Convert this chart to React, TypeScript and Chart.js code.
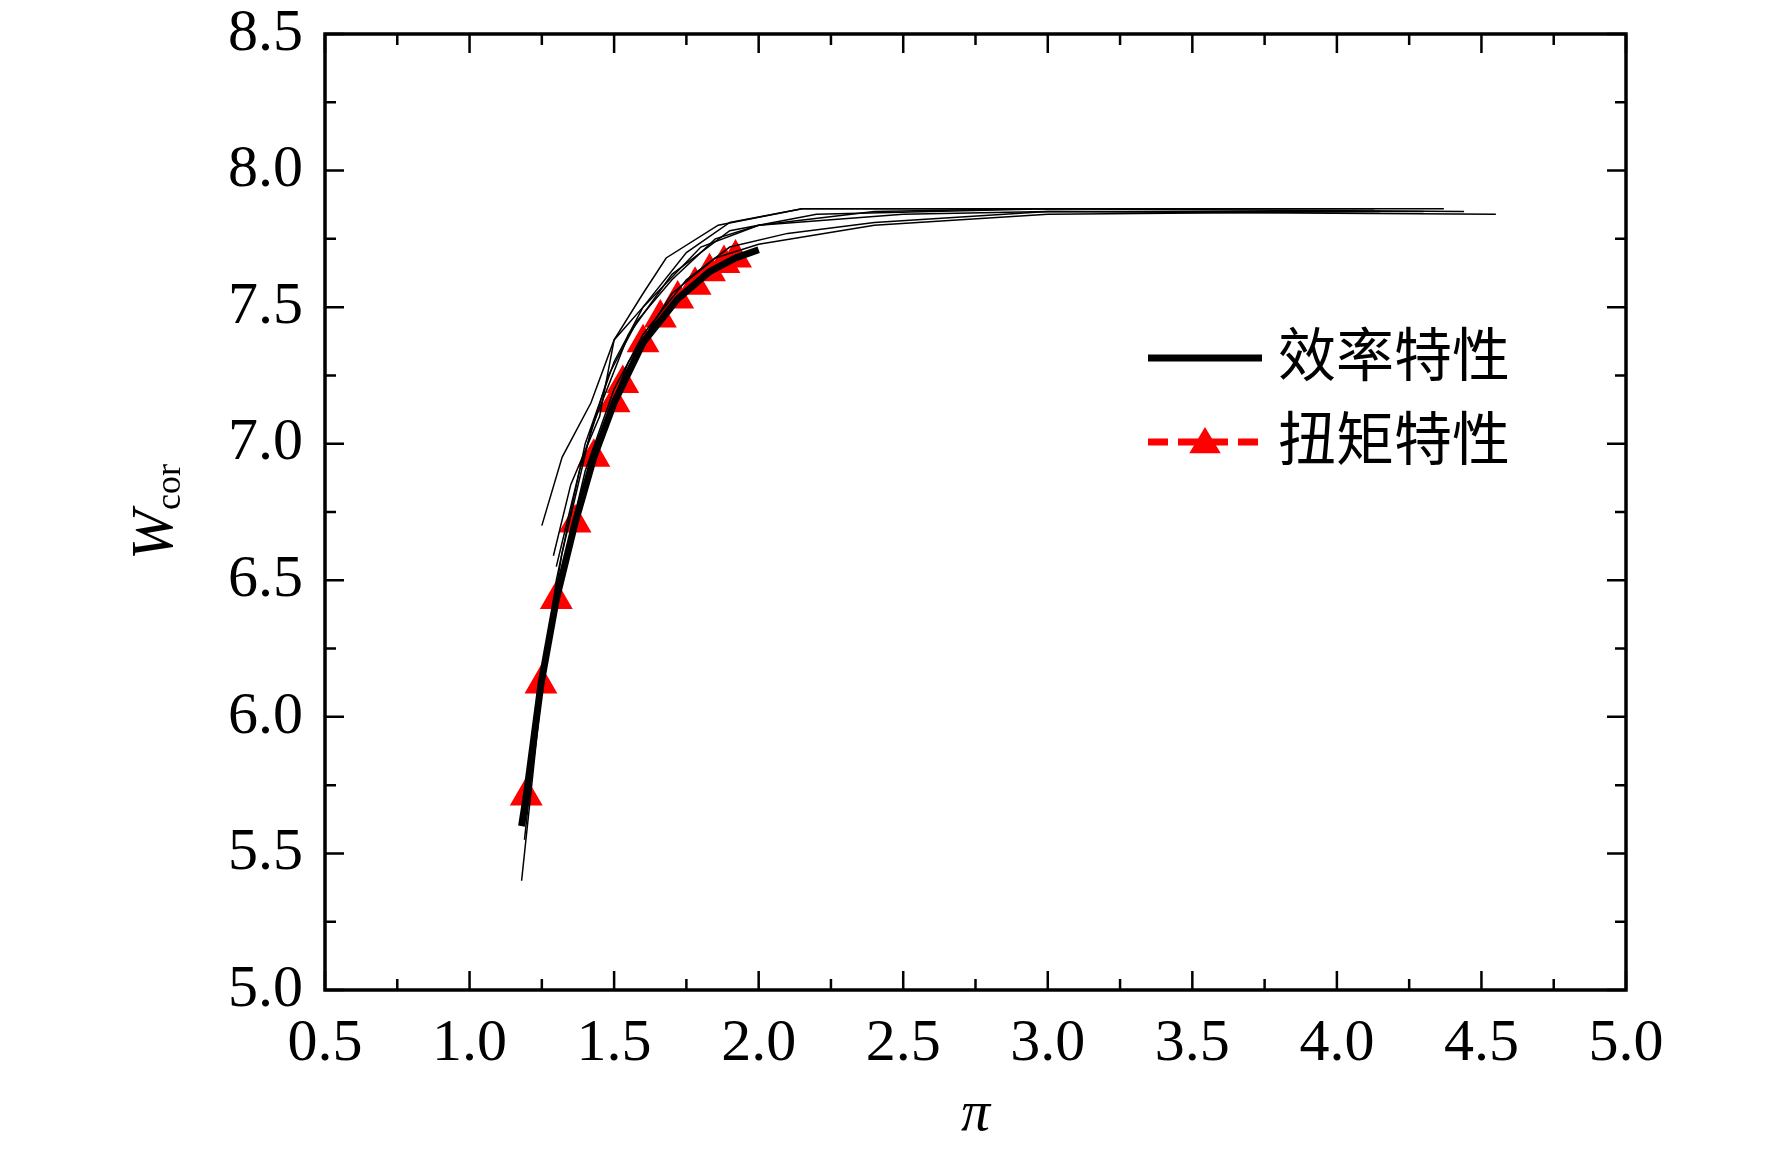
import React, { useEffect, useRef } from "react";
import { Chart, registerables } from "chart.js";
Chart.register(...registerables);

const torqueX = [1.196, 1.247, 1.30, 1.365, 1.43, 1.50, 1.53, 1.60, 1.66, 1.72, 1.78, 1.83, 1.88, 1.92];
const torqueY = [5.71, 6.12, 6.43, 6.71, 6.95, 7.15, 7.22, 7.37, 7.46, 7.53, 7.58, 7.63, 7.66, 7.68];
const effMainX = [1.18, 1.196, 1.247, 1.30, 1.365, 1.43, 1.50, 1.60, 1.72, 1.83, 1.92, 2.0];
const effMainY = [5.6, 5.71, 6.12, 6.43, 6.71, 6.95, 7.15, 7.37, 7.53, 7.63, 7.68, 7.71];
const thin: [number, number][][] = [
  [[1.18,5.40],[1.25,6.1],[1.3,6.5],[1.4,7.0],[1.5,7.3],[1.6,7.5],[1.8,7.72],[2.0,7.8],[2.5,7.84],[3.0,7.85],[4.55,7.84]],
  [[1.19,5.55],[1.25,6.15],[1.32,6.6],[1.42,7.05],[1.55,7.4],[1.7,7.62],[1.9,7.78],[2.2,7.84],[3.0,7.86],[4.44,7.85]],
  [[1.25,6.70],[1.32,6.95],[1.42,7.15],[1.5,7.38],[1.6,7.55],[1.68,7.68],[1.86,7.8],[2.15,7.86],[4.37,7.86]],
  [[1.29,6.59],[1.35,6.85],[1.45,7.1],[1.5,7.38],[1.6,7.5],[1.75,7.7],[1.9,7.81],[2.15,7.86],[4.13,7.86]],
  [[1.2,5.75],[1.3,6.45],[1.4,6.9],[1.5,7.2],[1.6,7.4],[1.75,7.6],[1.9,7.72],[2.1,7.77],[2.4,7.81],[3.0,7.85],[4.3,7.85]],
  [[1.3,6.55],[1.38,6.9],[1.48,7.25],[1.58,7.45],[1.7,7.6],[1.85,7.75],[2.0,7.8],[2.4,7.85],[2.92,7.86]],
  [[1.22,5.9],[1.3,6.4],[1.42,6.95],[1.55,7.3],[1.7,7.55],[1.85,7.68],[2.0,7.73],[2.4,7.8],[3.0,7.84],[4.15,7.85]],
];
const xTicks = [0.5, 1.0, 1.5, 2.0, 2.5, 3.0, 3.5, 4.0, 4.5, 5.0];
const yTicks = [5.0, 5.5, 6.0, 6.5, 7.0, 7.5, 8.0, 8.5];
const legendLabels = ["效率特性", "扭矩特性"];

const FONT = "'Liberation Serif', 'Times New Roman', serif";
const CJK = "'Noto Sans CJK SC', sans-serif";

function tri(ctx: CanvasRenderingContext2D, x: number, y: number, r: number) {
  ctx.beginPath();
  ctx.moveTo(x, y - r);
  ctx.lineTo(x + r * 1.05, y + r * 0.75);
  ctx.lineTo(x - r * 1.05, y + r * 0.75);
  ctx.closePath();
  ctx.fill();
}

const deco = {
  id: "deco",
  afterDraw(chart: any) {
    const { ctx, chartArea: a, scales } = chart;
    const xs = scales.x, ys = scales.y;
    ctx.save();
    ctx.strokeStyle = "#000";
    ctx.lineWidth = 2.5;
    for (let v = 0.5; v <= 5.0001; v += 0.25) {
      const px = xs.getPixelForValue(v);
      const major = Math.abs(v * 2 - Math.round(v * 2)) < 1e-6;
      const L = major ? 19 : 11;
      ctx.beginPath();
      ctx.moveTo(px, a.bottom); ctx.lineTo(px, a.bottom - L);
      ctx.moveTo(px, a.top); ctx.lineTo(px, a.top + L);
      ctx.stroke();
    }
    for (let v = 5.0; v <= 8.5001; v += 0.25) {
      const py = ys.getPixelForValue(v);
      const major = Math.abs(v * 2 - Math.round(v * 2)) < 1e-6;
      const L = major ? 19 : 11;
      ctx.beginPath();
      ctx.moveTo(a.left, py); ctx.lineTo(a.left + L, py);
      ctx.moveTo(a.right, py); ctx.lineTo(a.right - L, py);
      ctx.stroke();
    }
    ctx.lineWidth = 3.5;
    ctx.strokeRect(a.left, a.top, a.right - a.left, a.bottom - a.top);
    ctx.fillStyle = "#000";
    ctx.font = `italic 58px ${FONT}`;
    ctx.textAlign = "center";
    ctx.textBaseline = "alphabetic";
    ctx.fillText("π", (a.left + a.right) / 2, 1130);
    ctx.save();
    ctx.translate(172, (a.top + a.bottom) / 2);
    ctx.rotate(-Math.PI / 2);
    ctx.textAlign = "left";
    ctx.font = `italic 60px ${FONT}`;
    const wW = ctx.measureText("W").width;
    ctx.font = `36px ${FONT}`;
    const cW = ctx.measureText("cor").width;
    const sx = -(wW + cW) / 2;
    ctx.font = `italic 60px ${FONT}`;
    ctx.fillText("W", sx, 0);
    ctx.font = `36px ${FONT}`;
    ctx.fillText("cor", sx + wW, 8);
    ctx.restore();
    ctx.font = `58px ${CJK}`;
    ctx.textAlign = "left";
    ctx.textBaseline = "middle";
    ctx.strokeStyle = "#000"; ctx.lineWidth = 7;
    ctx.beginPath(); ctx.moveTo(1148, 358); ctx.lineTo(1262, 358); ctx.stroke();
    ctx.fillText(legendLabels[0], 1278, 354);
    ctx.strokeStyle = "#ff0000"; ctx.setLineDash([20, 10]);
    ctx.beginPath(); ctx.moveTo(1148, 442); ctx.lineTo(1262, 442); ctx.stroke();
    ctx.setLineDash([]);
    ctx.fillStyle = "#ff0000"; tri(ctx, 1205, 442, 15);
    ctx.fillStyle = "#000";
    ctx.fillText(legendLabels[1], 1278, 438);
    ctx.restore();
  },
};

export default function App() {
  const ref = useRef<HTMLCanvasElement>(null);
  useEffect(() => {
    document.body.style.margin = "0";
    const datasets: any[] = thin.map((c) => ({
      data: c.map(([x, y]) => ({ x, y })),
      borderColor: "#000", borderWidth: 1.5, pointRadius: 0, showLine: true, tension: 0,
    }));
    datasets.push({
      data: effMainX.map((x, i) => ({ x, y: effMainY[i] })),
      borderColor: "#000", borderWidth: 7, pointRadius: 0, showLine: true,
    });
    datasets.push({
      data: torqueX.map((x, i) => ({ x, y: torqueY[i] })),
      borderColor: "#ff0000", borderWidth: 5, borderDash: [18, 9], showLine: true,
      pointStyle: "triangle", pointRadius: 14, pointBackgroundColor: "#ff0000", pointBorderColor: "#ff0000",
    });
    const chart = new Chart(ref.current!, {
      type: "scatter",
      data: { datasets },
      plugins: [deco],
      options: {
        animation: false, responsive: false,
        layout: { padding: { top: 34, right: 146, left: 0, bottom: 0 } },
        plugins: { legend: { display: false }, tooltip: { enabled: false } },
        scales: {
          x: {
            type: "linear", min: 0.5, max: 5.0,
            afterBuildTicks: (s: any) => { s.ticks = xTicks.map((v) => ({ value: v })); },
            afterFit: (s: any) => { s.height = 161; s.paddingLeft = 0; s.paddingRight = 0; },
            grid: { display: false }, border: { display: false },
            ticks: { color: "#000", font: { family: FONT, size: 60 }, padding: 10, maxRotation: 0, callback: (v: any) => Number(v).toFixed(1) },
          },
          y: {
            type: "linear", min: 5.0, max: 8.5,
            afterBuildTicks: (s: any) => { s.ticks = yTicks.map((v) => ({ value: v })); },
            afterFit: (s: any) => { s.width = 325; s.paddingTop = 0; s.paddingBottom = 0; },
            grid: { display: false }, border: { display: false },
            ticks: { color: "#000", font: { family: FONT, size: 60 }, padding: 14, callback: (v: any) => Number(v).toFixed(1) },
          },
        },
      },
    });
    return () => chart.destroy();
  }, []);
  return <canvas ref={ref} width={1772} height={1151} style={{ display: "block" }} />;
}
